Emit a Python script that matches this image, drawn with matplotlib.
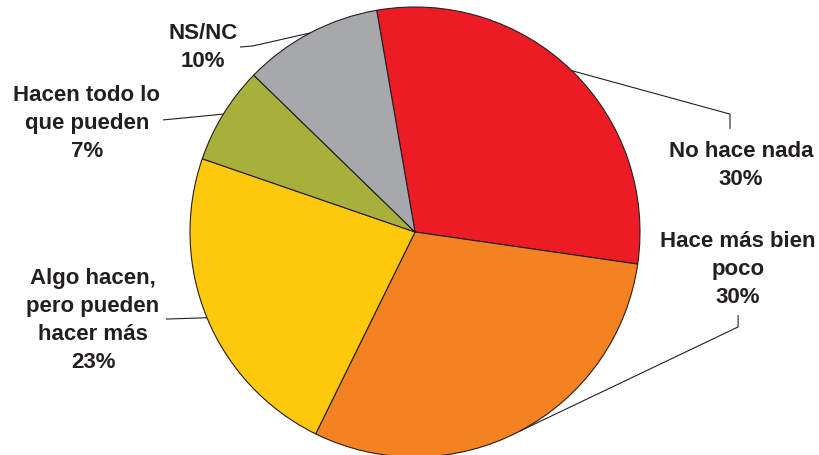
import numpy as np
import matplotlib
matplotlib.use("Agg")
import matplotlib.pyplot as plt

# Survey answers, clockwise from the top
labels = ["No hace nada", "Hace más bien\npoco", "Algo hacen,\npero pueden\nhacer más",
          "Hacen todo lo\nque pueden", "NS/NC"]
shares = [30, 30, 23, 7, 10]
colors = ["#ed1c24", "#f58220", "#fec80c", "#a7b03a", "#a6a8ab"]

# label block centres and leader line elbows (pie radius = 1)
text_pos = [(1.449, 0.298), (1.436, -0.164), (-1.431, -0.389), (-1.458, 0.487), (-0.942, 0.824)]
elbows = [
    [(1.40, 0.524), (1.40, 0.458)],
    [(1.436, -0.422), (1.436, -0.369)],
    [(-1.107, -0.387)],
    [(-1.12, 0.498)],
    [(-0.72, 0.827), (-0.778, 0.822)],
]

ink = "#231f20"
plt.rcParams["font.family"] = ["Liberation Sans", "DejaVu Sans"]

fig = plt.figure(figsize=(8.19, 4.56), dpi=100)
ax = fig.add_axes([0, 0, 1, 1])

start = 99.8
wedges, _ = ax.pie(
    shares,
    colors=colors,
    startangle=start,
    counterclock=False,
    radius=1,
    wedgeprops=dict(edgecolor=ink, linewidth=0.8),
)

for w, lab, val, tp, elb in zip(wedges, labels, shares, text_pos, elbows):
    mid = np.deg2rad((w.theta1 + w.theta2) / 2)
    pts = [(np.cos(mid), np.sin(mid))] + elb
    xs, ys = zip(*pts)
    ax.plot(xs, ys, color=ink, linewidth=0.8, solid_capstyle="butt")
    ax.text(tp[0], tp[1], f"{lab}\n{val}%", ha="center", va="center",
            fontsize=16, fontweight="bold", color=ink, linespacing=1.44)

ax.set_xlim(-415 / 225, (819 - 415) / 225)
ax.set_ylim(-(456 - 233) / 225, 233 / 225)
ax.set_aspect("auto")
ax.axis("off")

fig.savefig("out.png", dpi=100, facecolor="white")
